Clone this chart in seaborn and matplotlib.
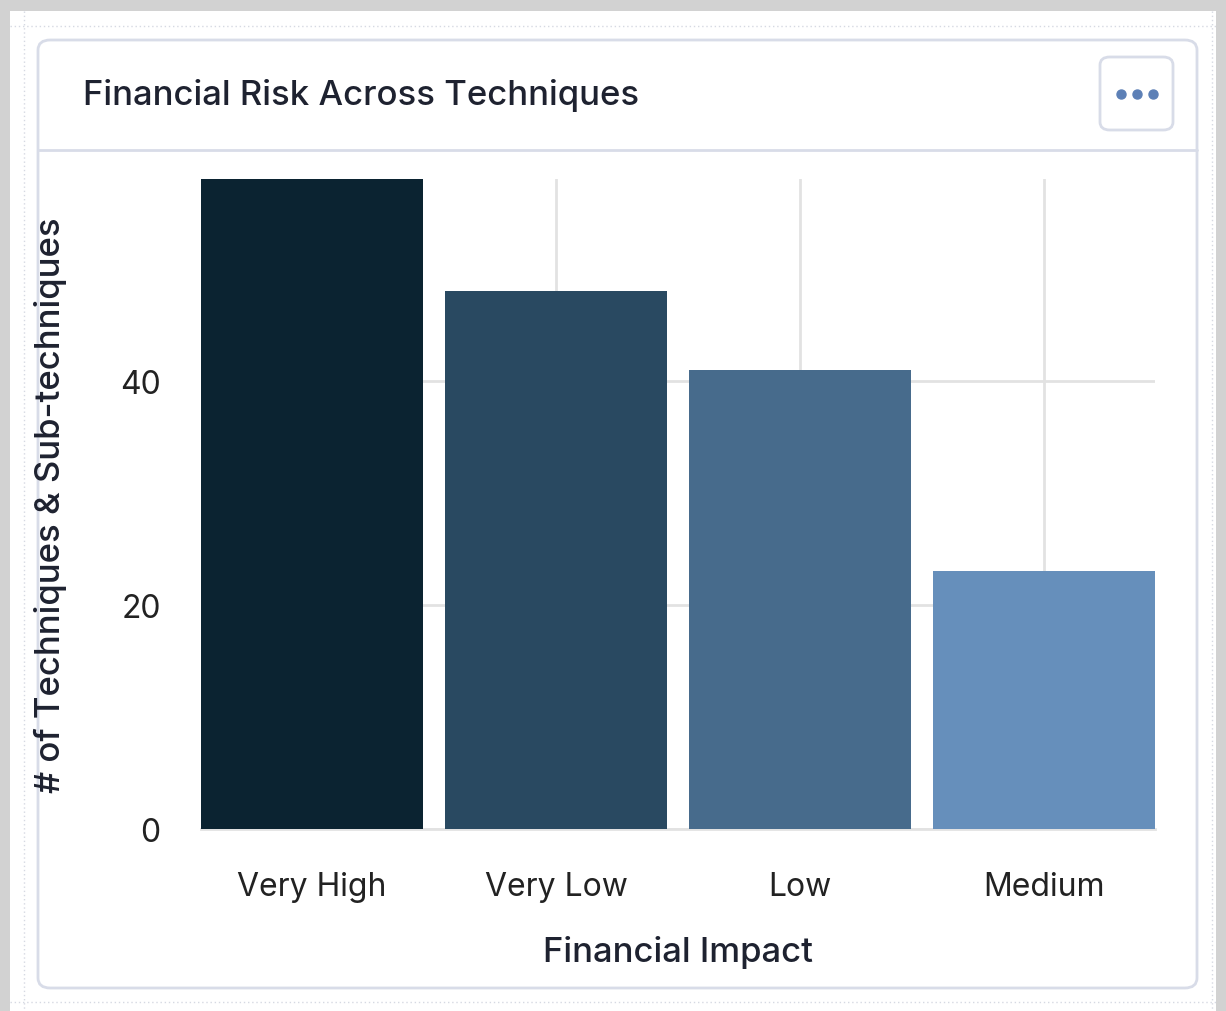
import matplotlib
matplotlib.use("Agg")
import matplotlib.pyplot as plt
from matplotlib.patches import FancyBboxPatch, Rectangle
from matplotlib.lines import Line2D
import seaborn as sns
import pandas as pd

# chart data
impact_levels = ["Very High", "Very Low", "Low", "Medium"]
technique_counts = [58, 48, 41, 23]
bar_colors = ["#0b2331", "#294961", "#476b8c", "#668fbb"]

sns.set_theme(style="white")
plt.rcParams["font.family"] = ["Inter", "DejaVu Sans"]

W, H = 1226, 1012
fig = plt.figure(figsize=(W / 100, H / 100), dpi=100)
fig.patch.set_facecolor("white")


def fx(px):
    return px / W


def fy(py):
    return 1 - py / H


# outer gray frame of the screenshot
fig.add_artist(Rectangle((0, 0), 1, 1, transform=fig.transFigure,
                         facecolor="#d2d2d2", edgecolor="none", zorder=-10))
fig.add_artist(Rectangle((fx(10), 0), fx(1216) - fx(10), fy(12),
                         transform=fig.transFigure, facecolor="white",
                         edgecolor="none", zorder=-9))
# faint dotted layout guides
for y in (27, 1003):
    fig.add_artist(Line2D([fx(10), fx(1216)], [fy(y), fy(y)], transform=fig.transFigure,
                          color="#d6d9e2", lw=1, ls=(0, (1, 2)), zorder=-8))
for x in (24, 1212):
    fig.add_artist(Line2D([fx(x), fx(x)], [fy(12), 0], transform=fig.transFigure,
                          color="#d6d9e2", lw=1, ls=(0, (1, 2)), zorder=-8))

# card
fig.add_artist(FancyBboxPatch((fx(38), fy(989)), fx(1197) - fx(38), fy(41) - fy(989),
                              boxstyle="round,pad=0,rounding_size=0.01",
                              transform=fig.transFigure, facecolor="white",
                              edgecolor="#d8dce8", lw=2, zorder=-5))
fig.add_artist(Line2D([fx(38), fx(1197)], [fy(151), fy(151)], transform=fig.transFigure,
                      color="#d8dce8", lw=2, zorder=-4))
fig.text(fx(83), fy(96), "Financial Risk Across Techniques", fontsize=25,
         color="#1e2230", va="center", ha="left", weight="medium")

# "..." menu button
fig.add_artist(FancyBboxPatch((fx(1100), fy(131)), fx(1173) - fx(1100), fy(58) - fy(131),
                              boxstyle="round,pad=0,rounding_size=0.008",
                              transform=fig.transFigure, facecolor="white",
                              edgecolor="#d8dce8", lw=2, zorder=-3))
for dx in (1121, 1137, 1153):
    fig.add_artist(Line2D([fx(dx)], [fy(95)], transform=fig.transFigure, marker="o",
                          markersize=6.5, color="#5d80b6", lw=0))

# chart
df = pd.DataFrame({"impact": impact_levels, "count": technique_counts})
ax = fig.add_axes([fx(201), fy(830), fx(1155) - fx(201), fy(180) - fy(830)])
sns.barplot(data=df, x="impact", y="count", hue="impact", palette=bar_colors,
            legend=False, width=0.91, saturation=1, linewidth=0, ax=ax, zorder=3)

ax.set_xlim(-0.455, 3.455)
ax.set_ylim(0, 58)
ax.set_yticks([0, 20, 40])
ax.set_facecolor("none")
ax.grid(True, color="#e2e2e2", lw=2, zorder=0)
ax.set_axisbelow(True)
for side in ("top", "right", "left"):
    ax.spines[side].set_visible(False)
ax.spines["bottom"].set_color("#e2e2e2")
ax.spines["bottom"].set_linewidth(2)
ax.tick_params(axis="both", length=0, labelsize=23, labelcolor="#222222")
ax.tick_params(axis="y", pad=29)
ax.tick_params(axis="x", pad=30)
ax.set_xlabel("Financial Impact", fontsize=25, color="#1e2230", labelpad=24, weight="medium")
ax.set_ylabel("# of Techniques & Sub-techniques", fontsize=25, color="#1e2230",
              labelpad=38, weight="medium")

fig.savefig("out.png", dpi=100)
